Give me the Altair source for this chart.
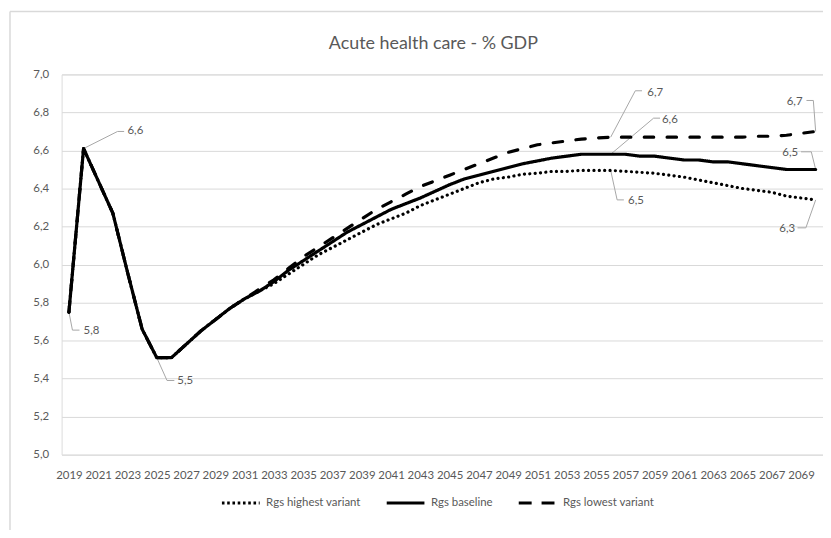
import altair as alt
import pandas as pd

# ---------------- data ----------------
years = list(range(2019, 2071))
series_names = ["Rgs highest variant", "Rgs baseline", "Rgs lowest variant"]

rgs_highest = [5.75, 6.61, 6.44, 6.27, 5.96, 5.66, 5.51, 5.51, 5.58, 5.65, 5.71, 5.77, 5.82,
               5.86, 5.90, 5.95, 6.00, 6.05, 6.09, 6.13, 6.17, 6.21, 6.24,
               6.27, 6.31, 6.34, 6.37, 6.40, 6.43, 6.45, 6.46, 6.475, 6.48,
               6.49, 6.49, 6.495, 6.495, 6.495, 6.49, 6.485, 6.48, 6.47, 6.46,
               6.445, 6.43, 6.415, 6.40, 6.39, 6.38, 6.36, 6.35, 6.34]
rgs_baseline = [5.75, 6.61, 6.44, 6.27, 5.96, 5.66, 5.51, 5.51, 5.58, 5.65, 5.71, 5.77, 5.82,
                5.86, 5.91, 5.97, 6.02, 6.07, 6.12, 6.17, 6.21, 6.25, 6.29,
                6.32, 6.35, 6.385, 6.42, 6.45, 6.47, 6.49, 6.51, 6.53, 6.545,
                6.56, 6.57, 6.58, 6.58, 6.58, 6.58, 6.57, 6.57, 6.56, 6.55,
                6.55, 6.54, 6.54, 6.53, 6.52, 6.51, 6.50, 6.50, 6.50]
rgs_lowest = [5.75, 6.61, 6.44, 6.27, 5.96, 5.66, 5.51, 5.51, 5.58, 5.65, 5.71, 5.77, 5.82,
              5.87, 5.92, 5.98, 6.04, 6.09, 6.14, 6.19, 6.24, 6.29, 6.33,
              6.37, 6.41, 6.44, 6.47, 6.50, 6.53, 6.56, 6.59, 6.61, 6.63,
              6.64, 6.65, 6.66, 6.665, 6.67, 6.67, 6.67, 6.67, 6.67, 6.67,
              6.67, 6.67, 6.67, 6.67, 6.675, 6.675, 6.68, 6.69, 6.70]

x_ticks = list(range(2019, 2070, 2))
y_ticks = [5.0, 5.2, 5.4, 5.6, 5.8, 6.0, 6.2, 6.4, 6.6, 6.8, 7.0]

# data-label annotations: series, year of labelled point, leader elbow, leader end, text anchor
ann_series = ["Rgs baseline", "Rgs baseline", "Rgs baseline",
              "Rgs lowest variant", "Rgs baseline", "Rgs highest variant",
              "Rgs lowest variant", "Rgs baseline", "Rgs highest variant"]
ann_year = [2019, 2020, 2025, 2056, 2056, 2056, 2070, 2070, 2070]
ann_elbow_year = [2019.24, 2022.32, 2025.7, 2057.68, 2058.93, 2056.44, 2069.84, 2069.7, 2069.33]
ann_elbow_value = [5.655, 6.70, 5.39, 6.914, 6.770, 6.34, 6.863, 6.593, 6.193]
ann_end_year = [2019.72, 2022.77, 2026.2, 2058.14, 2059.37, 2056.9, 2069.37, 2069.0, 2068.76]
ann_text_year = [2020.0, 2023.0, 2026.4, 2058.5, 2059.5, 2057.19, 2069.1, 2068.8, 2068.6]
ann_text_value = [5.65, 6.70, 5.386, 6.903, 6.762, 6.332, 6.855, 6.587, 6.187]
ann_align = ["left", "left", "left", "left", "left", "left", "right", "right", "right"]

# ---------------- tables ----------------
series_values = {"Rgs highest variant": rgs_highest,
                 "Rgs baseline": rgs_baseline,
                 "Rgs lowest variant": rgs_lowest}
rows = []
for name in series_names:
    for y, v in zip(years, series_values[name]):
        rows.append({"year": y, "value": v, "series": name, "legend_series": name})
df = pd.DataFrame(rows)

ann = pd.DataFrame({
    "series": ann_series, "year": ann_year,
    "ey": ann_elbow_year, "ev": ann_elbow_value, "endy": ann_end_year,
    "ty": ann_text_year, "tv": ann_text_value, "align": ann_align,
})
ann["value"] = [series_values[s][years.index(y)] for s, y in zip(ann_series, ann_year)]
ann["label"] = [f"{v:.1f}".replace(".", ",") for v in ann["value"]]

FONT = "Lato"
TXT = "#595959"
GRID = "#d9d9d9"

x_scale = alt.Scale(domain=[2018.5, 2070.5], nice=False, zero=False)
y_scale = alt.Scale(domain=[5, 7], nice=False, zero=False)

x_axis = alt.Axis(values=x_ticks, tickCount=100, format="d", title=None, grid=False,
                  domain=False, ticks=False, labelPadding=15, labelFontSize=11.5,
                  labelFont=FONT, labelColor=TXT, labelFlush=False, labelOverlap=False)
y_axis = alt.Axis(values=y_ticks, tickCount=50,
                  labelExpr="replace(format(datum.value, '.1f'), '.', ',')",
                  title=None, grid=True, gridColor=GRID, gridWidth=1, domain=False,
                  ticks=False, labelPadding=13, labelFontSize=11.5, labelFont=FONT,
                  labelColor=TXT, labelOverlap=False)

# visible lines (round caps -> round dots)
lines = alt.Chart(df).mark_line(strokeWidth=3.2, strokeCap="round", strokeJoin="round",
                                color="black").encode(
    x=alt.X("year:Q", scale=x_scale, axis=x_axis),
    y=alt.Y("value:Q", scale=y_scale, axis=y_axis),
    strokeDash=alt.StrokeDash(
        "series:N",
        scale=alt.Scale(domain=series_names, range=[[0.1, 5.3], [1, 0], [9.5, 13.5]]),
        legend=None,
    ),
)

# invisible copy that only provides the legend (butt caps)
legend_layer = alt.Chart(df).mark_line(strokeWidth=3, color="black", opacity=0).encode(
    x=alt.X("year:Q", scale=x_scale, axis=x_axis),
    y=alt.Y("value:Q", scale=y_scale, axis=y_axis),
    strokeDash=alt.StrokeDash(
        "legend_series:N",
        scale=alt.Scale(domain=series_names, range=[[2.6, 2.7], [1, 0], [13, 10]]),
        sort=series_names,
        legend=alt.Legend(title=None, orient="none", legendX=160, legendY=411,
                          direction="horizontal", symbolType="stroke", symbolSize=1444,
                          symbolStrokeWidth=3, symbolStrokeColor="black", symbolOpacity=1,
                          labelFont=FONT, labelFontSize=11.5, labelColor=TXT,
                          columnPadding=19, labelOffset=5),
    ),
)

leader1 = alt.Chart(ann).mark_rule(color="#a6a6a6", strokeWidth=1).encode(
    x="year:Q", y="value:Q", x2="ey:Q", y2="ev:Q")
leader2 = alt.Chart(ann).mark_rule(color="#a6a6a6", strokeWidth=1).encode(
    x="ey:Q", y="ev:Q", x2="endy:Q")

text_left = alt.Chart(ann).transform_filter("datum.align == 'left'").mark_text(
    align="left", baseline="middle", font=FONT, fontSize=11.5, color=TXT).encode(
    x="ty:Q", y="tv:Q", text="label:N")
text_right = alt.Chart(ann).transform_filter("datum.align == 'right'").mark_text(
    align="right", baseline="middle", font=FONT, fontSize=11.5, color=TXT).encode(
    x="ty:Q", y="tv:Q", text="label:N")

frame_src = pd.DataFrame({"k": [0]})
frame_top = alt.Chart(frame_src).mark_rule(color=GRID, strokeWidth=1.5).encode(
    x=alt.value(-52), x2=alt.value(769), y=alt.value(-63.3))
frame_left = alt.Chart(frame_src).mark_rule(color=GRID, strokeWidth=1.5).encode(
    x=alt.value(-52), y=alt.value(-63.3), y2=alt.value(470))

chart = alt.layer(frame_top, frame_left, leader1, leader2, legend_layer, lines,
                  text_left, text_right).resolve_scale(strokeDash="independent").properties(
    width=767, height=383,
    title=alt.TitleParams("Acute health care - % GDP", font=FONT, fontSize=18,
                          fontWeight="normal", color=TXT, anchor="middle", offset=0,
                          dx=-9, dy=42),
    autosize=alt.AutoSizeParams(type="none"),
    padding={"left": 54, "top": 65, "right": 0, "bottom": 74},
).configure_view(stroke=None).configure(background="white")

chart.save("out.html", embed_options={"renderer": "svg", "actions": False})
